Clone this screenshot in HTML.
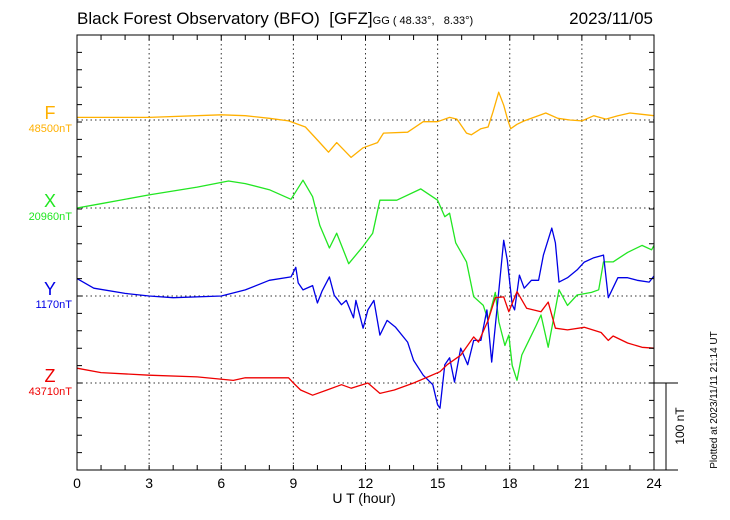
<!DOCTYPE html>
<html><head><meta charset="utf-8"><style>
body{margin:0;background:#fff}
svg{display:block;font-family:"Liberation Sans",sans-serif}
text.pre{white-space:pre}
</style></head><body>
<svg id="c" width="730" height="520">
<text class="pre" x="77" y="24" font-size="17" xml:space="preserve">Black Forest Observatory (BFO)  [GFZ]<tspan font-size="11">GG ( 48.33°,   8.33°)</tspan></text>
<text x="653" y="24" font-size="17" text-anchor="end">2023/11/05</text>
<g id="grid"></g>
<g id="series"></g>
<g id="axes"></g>
<text x="364" y="503" font-size="14" text-anchor="middle">U T (hour)</text>
<text transform="translate(684,426) rotate(-90)" font-size="12" text-anchor="middle">100 nT</text>
<text transform="translate(717,400) rotate(-90)" font-size="10" text-anchor="middle">Plotted at 2023/11/11 21:14 UT</text>
</svg>
<script>
const fT=[0,3,6,7,8,8.8,9.5,10,10.46,10.8,11.4,11.9,12.5,12.75,13.75,14.4,15,15.5,15.8,16.2,16.4,16.8,17.1,17.3,17.54,17.75,17.9,18.04,18.3,18.6,19,19.5,20,20.5,21,21.5,22,22.5,23,24];
const fV=[3,3,6,5,2,-1,-8,-23,-37,-26,-43,-32,-26,-15,-14,-2,-2,3,1,-15,-17,-10,-8,9,32,17,2,-10,-5,-1,3,8,2,0,-1,5,1,5,8,5];
const xT=[0,1,3,5,6.3,7,8,8.9,9.4,9.8,10.1,10.5,10.8,11.3,11.9,12.3,12.6,13.3,14.3,15,15.3,15.5,15.75,16.2,16.5,16.9,17.1,17.4,17.55,17.8,17.96,18.1,18.3,18.5,18.8,19.1,19.3,19.6,20.05,20.4,20.8,21.4,21.7,21.9,22.3,22.9,23.5,23.9,24];
const xV=[0,5,15,24,31,28,21,10,32,13,-20,-46,-29,-64,-44,-29,9,9,22,9,-10,-6,-40,-62,-102,-112,-129,-97,-131,-158,-146,-181,-198,-169,-152,-135,-123,-160,-94,-112,-100,-97,-94,-62,-62,-51,-43,-48,-43];
const yT=[0,0.7,2,3,4,6,7,8,8.9,9.1,9.2,9.4,9.8,10,10.2,10.5,10.7,11,11.2,11.5,11.6,11.9,12.1,12.35,12.6,12.9,13.25,13.75,14,14.4,14.8,15,15.1,15.3,15.5,15.7,15.96,16.25,16.5,16.8,17.05,17.25,17.55,17.75,17.9,18.1,18.2,18.4,18.6,18.9,19.2,19.4,19.75,19.9,20.05,20.4,20.8,21.1,21.5,21.9,22.1,22.5,22.9,23.3,23.8,24];
const yV=[20,9,3,0,-2,0,7,18,22,33,15,7,12,-8,6,22,1,-10,-5,-25,-5,-37,-16,-5,-45,-28,-36,-53,-74,-91,-102,-125,-129,-79,-71,-99,-60,-79,-51,-51,-16,-76,7,64,41,-10,-16,24,9,18,18,47,78,61,16,21,30,39,44,47,-2,21,21,18,16,23];
const zT=[0,1,3,5,6.5,7,8.8,9,9.3,9.8,10.4,11,11.4,12.1,12.6,13.2,14,14.6,15.1,15.4,15.96,16.5,16.7,17.1,17.4,17.75,17.96,18.3,18.7,19.3,19.6,19.9,20.4,21.1,21.8,22.1,22.3,22.9,23.5,24];
const zV=[17,12,9,7,3,6,6,0,-8,-14,-8,-2,-6,0,-12,-8,0,7,13,21,32,53,47,72,98,99,82,105,86,82,93,63,61,64,58,49,54,46,41,40];
const xTicks=[0,3,6,9,12,15,18,21,24];
const L=77,R=654,T=35,B=470,PXNT=0.87;
const xs=h=>L+(R-L)*h/24;
const ys=(base,v)=>base-v*PXNT;
const NS="http://www.w3.org/2000/svg";
function mk(tag,attrs,parent){const e=document.createElementNS(NS,tag);for(const k in attrs)e.setAttribute(k,attrs[k]);parent.appendChild(e);return e;}
const grid=document.getElementById('grid'),axes=document.getElementById('axes'),ser=document.getElementById('series'),svg=document.getElementById('c');
const bases=[120,208,296,383];
bases.forEach(b=>{const l=mk('line',{x1:L,x2:R,y1:b,y2:b,stroke:'#333','stroke-dasharray':'1.5 3','stroke-width':1},grid);

});
xTicks.forEach(h=>{if(h>0&&h<24){const l=mk('line',{x1:xs(h),x2:xs(h),y1:T,y2:B,stroke:'#333','stroke-dasharray':'1.5 3','stroke-width':1},grid);

}
const t=mk('text',{x:xs(h),y:488,'font-size':14,'text-anchor':'middle'},axes);t.textContent=h;

});
let d='';
for(let h=1;h<24;h++){d+=`M${xs(h)},${T}v5M${xs(h)},${B}v-5`;}
for(let y=B;y>T+2;y-=17.4){d+=`M${L},${y}h5M${R},${y}h-5`;}
const tk=mk('path',{d:d,stroke:'#000','stroke-width':1,fill:'none'},axes);


const fr=mk('rect',{x:L,y:T,width:R-L,height:B-T,fill:'none',stroke:'#000','stroke-width':1},axes);


const sb=mk('path',{d:`M${R},383h24M${R},${B}h24M666,383V${B}`,stroke:'#000','stroke-width':1,fill:'none'},axes);


const S=[{n:'F',t:fT,v:fV,c:'#ffb000',b:120,lab:'48500nT'},{n:'X',t:xT,v:xV,c:'#22e622',b:208,lab:'20960nT'},{n:'Y',t:yT,v:yV,c:'#0000e6',b:296,lab:'1170nT'},{n:'Z',t:zT,v:zV,c:'#ee0000',b:383,lab:'43710nT'}];
S.forEach(s=>{const p=s.t.map((h,i)=>(i?'L':'M')+xs(h).toFixed(1)+','+ys(s.b,s.v[i]).toFixed(1)).join('');
const e=mk('path',{d:p,stroke:s.c,'stroke-width':1.3,fill:'none','stroke-linejoin':'round'},ser);


const a=mk('text',{x:50,y:s.b-1,'font-size':18,fill:s.c,'text-anchor':'middle'},svg);a.textContent=s.n;


const b=mk('text',{x:72,y:s.b+12,'font-size':11,fill:s.c,'text-anchor':'end'},svg);b.textContent=s.lab;

});
</script>
</body></html>
